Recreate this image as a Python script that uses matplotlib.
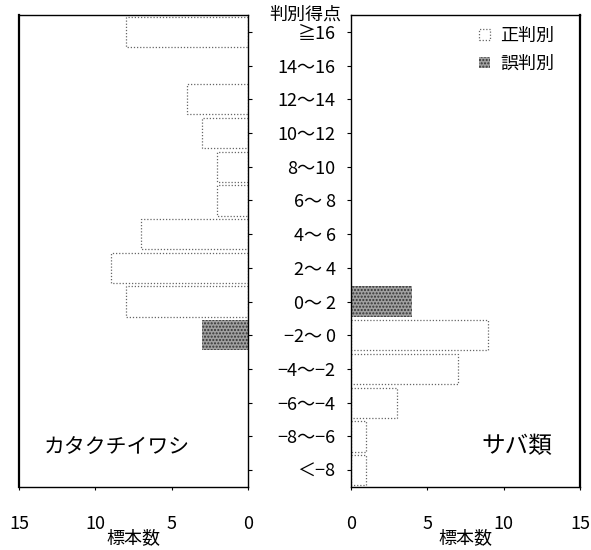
import numpy as np
import matplotlib
matplotlib.use("Agg")
import matplotlib.pyplot as plt
from matplotlib.patches import Patch

plt.rcParams['font.family'] = ['Noto Sans CJK JP', 'DejaVu Sans']

# discriminant score classes (top to bottom)
categories = ['≧16', '14～16', '12～14', '10～12', '8～10', '6～ 8', '4～ 6',
              '2～ 4', '0～ 2', '−2～ 0', '−4～−2', '−6～−4', '−8～−6', '＜−8']
# カタクチイワシ
anchovy_ok = [8, 0, 4, 3, 2, 2, 7, 9, 8, 0, 0, 0, 0, 0]
anchovy_ng = [0, 0, 0, 0, 0, 0, 0, 0, 0, 3, 0, 0, 0, 0]
# サバ類
mackerel_ok = [0, 0, 0, 0, 0, 0, 0, 0, 0, 9, 7, 3, 1, 1]
mackerel_ng = [0, 0, 0, 0, 0, 0, 0, 0, 4, 0, 0, 0, 0, 0]
xticks = [0, 5, 10, 15]

ypos = np.arange(len(categories))

fig = plt.figure(figsize=(5.91, 5.50), dpi=100)
ax_l = fig.add_axes([19/591, 63/550, 229/591, 472/550])
ax_r = fig.add_axes([351/591, 63/550, 229/591, 472/550])

ok_style = dict(height=0.9, facecolor='white', edgecolor='#666666',
                linewidth=0.9, linestyle=(0, (1, 1.5)))
ng_style = dict(height=0.9, facecolor='#a0a0a0', edgecolor='#333333',
                linewidth=0, hatch='.....')


def draw(ax, ok, ng):
    ok = np.array(ok)
    ng = np.array(ng)
    m = ok > 0
    ax.barh(ypos[m], ok[m], **ok_style)
    m = ng > 0
    ax.barh(ypos[m], ng[m], **ng_style)
    ax.set_ylim(len(categories) - 0.5, -0.5)
    ax.set_yticks(ypos)
    ax.set_xticks(xticks)
    ax.tick_params(axis='x', length=2, width=0.8, pad=18, labelsize=13)
    ax.tick_params(axis='y', length=3, width=0.8)
    ax.set_xlabel('標本数', fontsize=13, labelpad=-3)
    for s in ax.spines.values():
        s.set_linewidth(1.0)


draw(ax_l, anchovy_ok, anchovy_ng)
ax_l.set_xlim(15, 0)
ax_l.yaxis.tick_right()
ax_l.set_yticklabels([])
ax_l.spines['left'].set_linewidth(1.6)
ax_l.text(0.11, 0.083, 'カタクチイワシ', transform=ax_l.transAxes,
          fontsize=15, va='center', ha='left')

draw(ax_r, mackerel_ok, mackerel_ng)
ax_r.set_xlim(0, 15)
ax_r.set_yticklabels(categories, fontsize=13)
ax_r.tick_params(axis='y', pad=8)
ax_r.spines['right'].set_linewidth(1.6)
ax_r.text(0.878, 0.085, 'サバ類', transform=ax_r.transAxes,
          fontsize=17, va='center', ha='right')

handles = [Patch(facecolor='white', edgecolor='#666666', linewidth=0.9,
                 linestyle=(0, (1, 1.5))),
           Patch(facecolor='#a0a0a0', edgecolor='#333333', linewidth=0,
                 hatch='.....')]
ax_r.legend(handles, ['正判別', '誤判別'], loc='upper right',
            bbox_to_anchor=(0.92, 0.99), frameon=False, fontsize=13,
            handlelength=0.6, handleheight=0.6, handletextpad=0.6,
            labelspacing=0.55, borderaxespad=0)

fig.text(305/591, 1 - 15/550, '判別得点', fontsize=13, ha='center', va='center')

fig.savefig('out.png', dpi=100)
